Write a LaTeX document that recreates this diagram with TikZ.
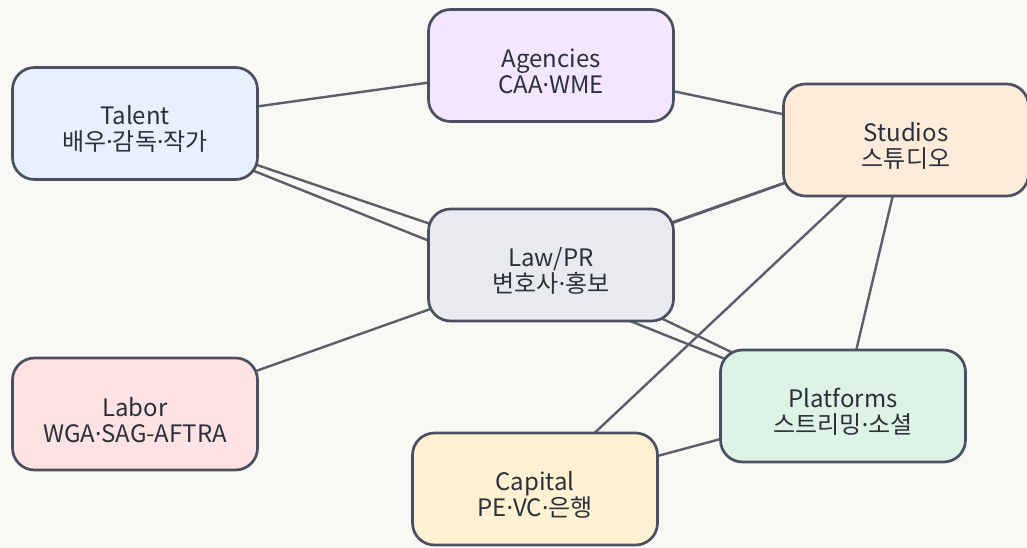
\documentclass[tikz,border=0pt]{standalone}
\usepackage{fontspec}
\setmainfont{Noto Sans CJK KR}
\newfontfamily\latinf{Noto Sans}
\newcommand{\md}{{\latinf ·}}
\newcommand{\lift}{\rule{0pt}{31pt}}
\definecolor{bgc}{HTML}{F9F8F4}
\definecolor{edgec}{HTML}{5A5F6B}
\definecolor{borderc}{HTML}{4A5060}
\definecolor{txtc}{HTML}{2B303A}
\definecolor{ctalent}{HTML}{E6F0FF}
\definecolor{cagency}{HTML}{F3E6FF}
\definecolor{cstudio}{HTML}{FFEBDA}
\definecolor{claw}{HTML}{E9EAF0}
\definecolor{clabor}{HTML}{FFE3E4}
\definecolor{cplat}{HTML}{DDF3E6}
\definecolor{ccap}{HTML}{FFF1D2}
\begin{document}
\begin{tikzpicture}[x=1pt,y=-1pt,
  box/.style={draw=borderc, line width=2.7pt, rounded corners=22pt,
    minimum width=245pt, minimum height=112pt, inner sep=0pt,
    align=center, text=txtc, font=\fontsize{24}{26}\selectfont},
  link/.style={draw=edgec, line width=2.4pt}]
\fill[bgc] (0,0) rectangle (1027,548);
\useasboundingbox (0,0) rectangle (1027,548);
\coordinate (pTalent) at (135,123.5);
\coordinate (pAgency) at (551,65.5);
\coordinate (pStudio) at (906,140);
\coordinate (pLaw) at (551,265);
\coordinate (pLabor) at (135,414);
\coordinate (pPlat) at (843,406);
\coordinate (pCap) at (535,489);
\draw[link] (pTalent) -- (pAgency);
\draw[link] (pAgency) -- (pStudio);
\draw[link] (pTalent) -- (pLaw);
\draw[link] (pTalent) -- (pPlat);
\draw[link] (pLabor) -- (pStudio);
\draw[link] (pLaw) -- (pStudio);
\draw[link] (pLaw) -- (pPlat);
\draw[link] (pStudio) -- (pCap);
\draw[link] (pStudio) -- (pPlat);
\draw[link] (pCap) -- (pPlat);
\node[box, fill=ctalent] (talent) at (pTalent) {\lift Talent\\배우\md 감독\md 작가};
\node[box, fill=cagency] (agency) at (pAgency) {\lift Agencies\\CAA\md WME};
\node[box, fill=cstudio] (studio) at (pStudio) {\lift Studios\\스튜디오};
\node[box, fill=claw] (law) at (pLaw) {\lift Law/PR\\변호사\md 홍보};
\node[box, fill=clabor] (labor) at (pLabor) {\lift Labor\\WGA\md SAG-AFTRA};
\node[box, fill=cplat] (plat) at (pPlat) {\lift Platforms\\스트리밍\md 소셜};
\node[box, fill=ccap] (cap) at (pCap) {\lift Capital\\PE\md VC\md 은행};
\end{tikzpicture}
\end{document}
